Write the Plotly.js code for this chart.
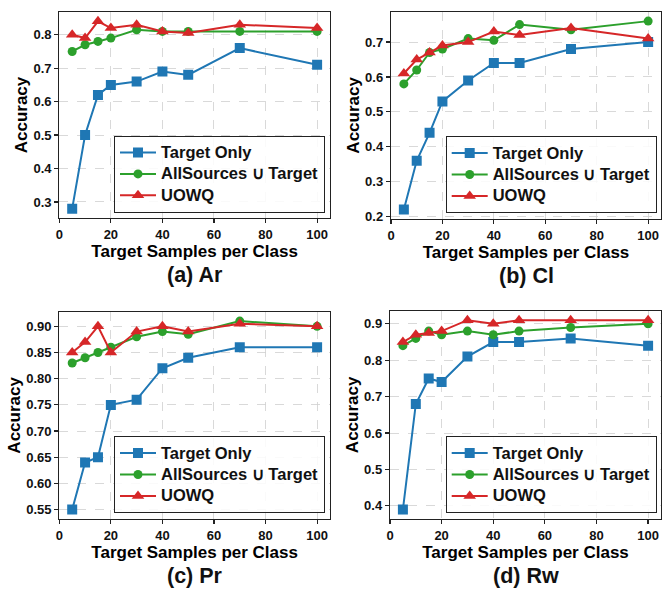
<!DOCTYPE html>
<html><head><meta charset="utf-8">
<script src="https://cdn.plot.ly/plotly-3.0.1.min.js"></script>
<style>body{margin:0;background:#fff;} #chart{width:670px;height:589px;}</style>
</head><body><div id="chart"></div>
<script>
// ---- data ----
const samples = [5, 10, 15, 20, 30, 40, 50, 70, 100];
const seriesNames = ['Target Only', 'AllSources \u222A Target', 'UOWQ'];
const panelCaptions = ['(a) Ar', '(b) Cl', '(c) Pr', '(d) Rw'];

const arTargetOnly = [0.28, 0.50, 0.62, 0.65, 0.66, 0.69, 0.68, 0.76, 0.71];
const arAllSources = [0.75, 0.77, 0.78, 0.79, 0.815, 0.81, 0.81, 0.81, 0.81];
const arUOWQ       = [0.80, 0.79, 0.84, 0.82, 0.83, 0.81, 0.805, 0.83, 0.82];

const clTargetOnly = [0.22, 0.36, 0.44, 0.53, 0.59, 0.64, 0.64, 0.68, 0.70];
const clAllSources = [0.58, 0.62, 0.67, 0.68, 0.71, 0.705, 0.75, 0.735, 0.76];
const clUOWQ       = [0.61, 0.65, 0.67, 0.69, 0.70, 0.73, 0.72, 0.74, 0.71];

const prTargetOnly = [0.55, 0.64, 0.65, 0.75, 0.76, 0.82, 0.84, 0.86, 0.86];
const prAllSources = [0.83, 0.84, 0.85, 0.86, 0.88, 0.89, 0.885, 0.91, 0.90];
const prUOWQ       = [0.85, 0.87, 0.90, 0.85, 0.89, 0.90, 0.89, 0.905, 0.90];

const rwTargetOnly = [0.39, 0.68, 0.75, 0.74, 0.81, 0.85, 0.85, 0.86, 0.84];
const rwAllSources = [0.84, 0.86, 0.88, 0.87, 0.88, 0.87, 0.88, 0.89, 0.90];
const rwUOWQ       = [0.85, 0.87, 0.875, 0.88, 0.91, 0.90, 0.91, 0.91, 0.91];

// ---- styling ----
const W = 670, H = 589;
const FONT = 'Arial, "Liberation Sans", sans-serif';
const colors = ['#1f77b4', '#2ca02c', '#d62728'];
const symbols = ['square', 'circle', 'triangle-up'];
const msizes = [10, 9, 11];

const panels = [
  {data: [arTargetOnly, arAllSources, arUOWQ], box: [59.3, 330, 12, 218], yr: [0.252, 0.868], dtick: 0.1, fmt: '.1f', leg: [325, 212.7]},
  {data: [clTargetOnly, clAllSources, clUOWQ], box: [391, 661, 11.7, 219], yr: [0.193, 0.787], dtick: 0.1, fmt: '.1f', leg: [656.7, 213.3]},
  {data: [prTargetOnly, prAllSources, prUOWQ], box: [59.3, 330, 311.7, 519], yr: [0.532, 0.928], dtick: 0.05, fmt: '.2f', leg: [325, 513.3]},
  {data: [rwTargetOnly, rwAllSources, rwUOWQ], box: [390, 661, 310.7, 519], yr: [0.364, 0.936], dtick: 0.1, fmt: '.1f', leg: [656.7, 513.3]}
];

const traces = [];
const layout = {
  width: W, height: H,
  margin: {l: 0, r: 0, t: 0, b: 0},
  paper_bgcolor: '#fff', plot_bgcolor: '#fff',
  font: {family: FONT, color: '#000'},
  showlegend: true,
  annotations: []
};

panels.forEach((p, i) => {
  const n = i + 1;
  const xa = 'x' + (n === 1 ? '' : n), ya = 'y' + (n === 1 ? '' : n);
  const legName = 'legend' + (n === 1 ? '' : n);
  p.data.forEach((vals, s) => {
    traces.push({
      x: samples, y: vals,
      name: '<span style="font-size:16.5px">' + seriesNames[s] + '</span>',
      type: 'scatter', mode: 'lines+markers',
      xaxis: xa, yaxis: ya, legend: legName,
      line: {color: colors[s], width: 2},
      marker: {symbol: symbols[s], size: msizes[s], color: colors[s], line: {width: 0}}
    });
  });
  const [x0, x1, y0, y1] = p.box;
  const axCommon = {
    showline: true, mirror: true, linecolor: '#222', linewidth: 1.2,
    ticks: 'outside', ticklen: 4, tickwidth: 1.2, tickcolor: '#222',
    showgrid: true, gridcolor: '#d0d0d0', griddash: 'dash', gridwidth: 0.8,
    zeroline: false,
    tickfont: {family: FONT, size: 13, color: '#111', weight: 'bold'},
    fixedrange: true
  };
  layout['xaxis' + (n === 1 ? '' : n)] = Object.assign({}, axCommon, {
    domain: [x0 / W, x1 / W], anchor: ya,
    range: [0, 105], tick0: 0, dtick: 20,
    title: {text: 'Target Samples per Class', font: {family: FONT, size: 17, weight: 'bold'}, standoff: 0}
  });
  layout['yaxis' + (n === 1 ? '' : n)] = Object.assign({}, axCommon, {
    domain: [1 - y1 / H, 1 - y0 / H], anchor: xa,
    range: p.yr, dtick: p.dtick, tickformat: p.fmt,
    title: {text: 'Accuracy', font: {family: FONT, size: 17, weight: 'bold'}, standoff: 1}
  });
  layout[legName] = {
    x: p.leg[0] / W, xanchor: 'right', xref: 'paper',
    y: 1 - p.leg[1] / H, yanchor: 'bottom', yref: 'paper',
    bgcolor: 'rgba(255,255,255,0.85)', bordercolor: '#222', borderwidth: 1,
    font: {family: FONT, size: 14.2, weight: 'bold', color: '#111'},
    itemwidth: 36,
    tracegroupgap: 0
  };
  layout.annotations.push({
    text: panelCaptions[i], showarrow: false,
    xref: 'paper', yref: 'paper',
    x: (x0 + x1) / 2 / W, y: 1 - (y1 + 57) / H,
    xanchor: 'center', yanchor: 'middle',
    font: {family: FONT, size: 21.5, weight: 'bold', color: '#111'}
  });
});

Plotly.newPlot('chart', traces, layout, {displayModeBar: false, staticPlot: true});
</script>
</body></html>
